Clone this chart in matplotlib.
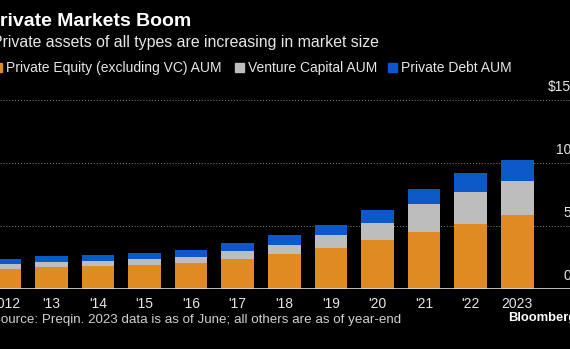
import matplotlib.pyplot as plt
from matplotlib.patches import Rectangle
from matplotlib.transforms import blended_transform_factory

years = ['2012', "'13", "'14", "'15", "'16", "'17", "'18", "'19", "'20", "'21", "'22", '2023']
# AUM in $ trillions
private_equity = [1.61, 1.78, 1.80, 1.90, 2.04, 2.38, 2.78, 3.28, 3.86, 4.55, 5.16, 5.85]
venture_capital = [0.35, 0.39, 0.45, 0.46, 0.47, 0.66, 0.75, 1.01, 1.35, 2.17, 2.54, 2.72]
private_debt = [0.40, 0.45, 0.42, 0.52, 0.60, 0.63, 0.72, 0.81, 1.06, 1.22, 1.48, 1.67]
y_ticks = [0, 5, 10, 15]
y_labels = ['0', '5', '10', '$15']

orange = '#E08A22'
gray = '#BDBDBD'
blue = '#0B58C8'
W, H = 570, 349

plt.rcParams['font.family'] = ['Liberation Sans', 'DejaVu Sans']

fig = plt.figure(figsize=(W / 100, H / 100), dpi=100, facecolor='black')

def fx(x):
    return x / W

def fy(y):
    return 1 - y / H

# plot area: baseline at y=289px, $15 line at y=100px
ax = fig.add_axes([0, fy(289), 1, (289 - 100) / H])
ax.set_facecolor('black')
for s in ax.spines.values():
    s.set_visible(False)

x = list(range(len(years)))
bottom2 = [a + b for a, b in zip(private_equity, venture_capital)]
ax.bar(x, private_equity, width=0.7, color=orange, zorder=3)
ax.bar(x, venture_capital, width=0.7, bottom=private_equity, color=gray, zorder=3)
ax.bar(x, private_debt, width=0.7, bottom=bottom2, color=blue, zorder=3)

ax.set_xlim(-0.101, 12.13)
ax.set_ylim(0, 15)
ax.set_yticks([])
for t in y_ticks[1:]:
    ax.axhline(t, color='#8a8a8a', lw=0.7, ls=(0, (1, 2)), zorder=1)
ax.axhline(0, color='#dddddd', lw=1.2, zorder=4)

ax.set_xticks(x)
ax.set_xticklabels(years, color='#e6e6e6', fontsize=10)
ax.tick_params(axis='x', length=0, pad=6)

# value labels sit above their gridlines, running off the right edge
trans = blended_transform_factory(fig.transFigure, ax.transData)
for t, lab in zip(y_ticks, y_labels):
    ax.text(fx(571), t + 0.45, lab, transform=trans, ha='right', va='bottom',
            color='#e6e6e6', fontsize=10)

fig.text(fx(-13), fy(22), 'Private Markets Boom', color='white', fontsize=14,
         fontweight='bold', ha='left', va='center')
fig.text(fx(-8), fy(43), 'Private assets of all types are increasing in market size',
         color='#e6e6e6', fontsize=11.4, ha='left', va='center')

# legend
legend = [(-7, orange, 'Private Equity (excluding VC) AUM'),
          (235, gray, 'Venture Capital AUM'),
          (388, blue, 'Private Debt AUM')]
for x0, c, lab in legend:
    fig.patches.append(Rectangle((fx(x0), fy(72)), fx(9), 9 / H, color=c,
                                 transform=fig.transFigure))
    fig.text(fx(x0 + 13), fy(68), lab, color='#e6e6e6', fontsize=10,
             ha='left', va='center')

fig.text(fx(-8), fy(320), 'Source: Preqin. 2023 data is as of June; all others are as of year-end',
         color='#d0d0d0', fontsize=9.6, ha='left', va='center')
fig.text(fx(508), fy(318), 'Bloomberg', color='white', fontsize=9.4,
         fontweight='bold', ha='left', va='center')

fig.savefig('out.png', dpi=100, facecolor='black')
